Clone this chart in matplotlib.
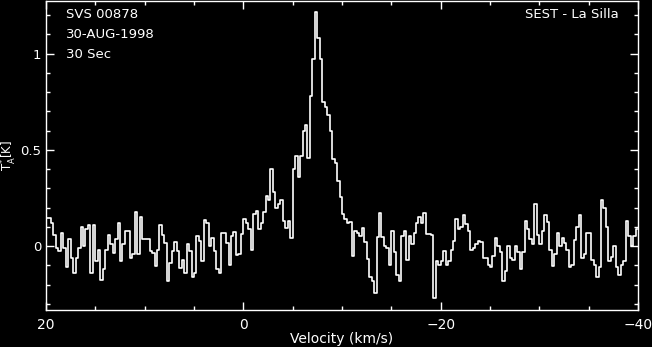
import numpy as np
import matplotlib
matplotlib.use('Agg')
import matplotlib.pyplot as plt
from matplotlib.ticker import MultipleLocator

# spectrum: 240 channels of 0.25 km/s, from +20 to -40 km/s
v_start = 20.0
dv = -0.25
t_a = [
    0.146, 0.146, 0.12, 0.06, -0.009, -0.026, 0.066, -0.009, -0.11, 0.035,
    -0.06, -0.14, -0.06, -0.01, 0.10, 0.0, 0.09, 0.11, -0.14, 0.11,
    -0.08, -0.02, -0.175, -0.12, -0.02, 0.06, 0.01, -0.035, 0.035, 0.12,
    -0.08, 0.01, 0.08, 0.08, -0.06, -0.04, 0.175, -0.04, 0.15, 0.035,
    0.035, 0.035, -0.026, -0.035, -0.105, -0.02, 0.11, 0.06, 0.017, -0.18,
    -0.09, -0.026, 0.02, -0.026, -0.115, -0.07, -0.14, 0.01, -0.026, -0.16,
    -0.14, 0.05, 0.026, -0.08, 0.135, 0.12, 0.0, 0.044, -0.026, -0.12,
    -0.14, 0.07, 0.07, 0.018, -0.096, 0.053, 0.075, -0.044, -0.04, 0.065,
    0.14, 0.118, 0.088, -0.018, 0.166, 0.18, 0.088, 0.12, 0.175, 0.26,
    0.24, 0.40, 0.28, 0.20, 0.22, 0.24, 0.13, 0.094, 0.13, 0.044,
    0.40, 0.47, 0.36, 0.47, 0.60, 0.63, 0.46, 0.78, 0.97, 1.215,
    1.08, 0.97, 0.75, 0.72, 0.68, 0.60, 0.45, 0.43, 0.34, 0.254,
    0.166, 0.14, 0.12, 0.126, -0.05, 0.08, 0.07, 0.05, 0.096, 0.02,
    -0.065, -0.16, -0.18, -0.245, 0.047, 0.17, 0.047, 0.0, -0.01, -0.10,
    0.08, -0.03, -0.15, -0.18, 0.05, 0.08, -0.07, 0.05, 0.01, 0.07,
    0.12, 0.15, 0.12, 0.17, 0.065, 0.065, 0.06, -0.27, -0.076, -0.10,
    -0.08, -0.026, -0.10, -0.08, -0.02, 0.026, 0.14, 0.088, 0.10, 0.16,
    0.114, 0.08, -0.02, -0.01, 0.01, 0.026, 0.02, -0.06, -0.06, -0.10,
    -0.11, -0.05, 0.04, 0.0, -0.03, -0.18, -0.13, 0.0, -0.06, -0.07,
    0.0, -0.03, -0.12, -0.03, 0.13, 0.088, 0.035, 0.012, 0.22, 0.06,
    0.012, 0.079, 0.163, 0.123, -0.02, -0.105, -0.04, 0.07, 0.0, 0.04,
    0.017, -0.02, -0.11, -0.10, 0.03, 0.10, 0.16, -0.06, -0.04, 0.07,
    0.07, -0.07, -0.10, -0.16, -0.11, 0.24, 0.20, 0.10, -0.075, -0.055,
    0.0, -0.11, -0.15, -0.10, -0.08, 0.128, 0.05, 0.0, 0.05, 0.09,
]
velocity = v_start + dv * (np.arange(len(t_a)) + 0.5)

header_left = ['SVS 00878', '30-AUG-1998', '30 Sec']
header_right = 'SEST - La Silla'

plt.rcParams['font.family'] = ['DejaVu Sans']
fig = plt.figure(figsize=(6.52, 3.47), dpi=100, facecolor='black')
ax = fig.add_axes([0.0706, 0.1066, 0.9079, 0.8905], facecolor='black')

ax.step(velocity, t_a, where='mid', color='white', lw=1.2)

ax.set_xlim(20, -40)
ax.set_ylim(-0.332, 1.273)

ax.xaxis.set_minor_locator(MultipleLocator(5))
ax.yaxis.set_minor_locator(MultipleLocator(0.1))
ax.set_xticks([20, 0, -20, -40])
ax.set_xticklabels(['20', '0', '\u221220', '\u221240'])
ax.set_yticks([0, 0.5, 1])
ax.set_yticklabels(['0', '0.5', '1'])

for s in ax.spines.values():
    s.set_color('white')
    s.set_linewidth(1.0)
ax.tick_params(which='both', direction='in', top=True, right=True,
               colors='white', labelsize=10, width=1.0)
ax.tick_params(which='major', length=5.5, pad=6)
ax.tick_params(which='minor', length=3)
ax.tick_params(axis='y', pad=3.5, labelsize=9.5)

# axis titles placed in figure coords so they stay inside the canvas
fig.text(0.5245, 0.022, 'Velocity (km/s)', color='white', fontsize=10,
         ha='center', va='center')
fig.text(0.0135, 0.553, r'T$_{\rm A}^{*}$[K]', color='white', fontsize=8.5,
         ha='center', va='center', rotation=90)

for k, txt in enumerate(header_left):
    ax.text(0.034, 0.955 - k * 0.064, txt, transform=ax.transAxes,
            color='white', fontsize=9.5, va='center', ha='left')
ax.text(0.968, 0.955, header_right, transform=ax.transAxes,
        color='white', fontsize=9.5, va='center', ha='right')

fig.savefig('out.png', dpi=100, facecolor='black')
